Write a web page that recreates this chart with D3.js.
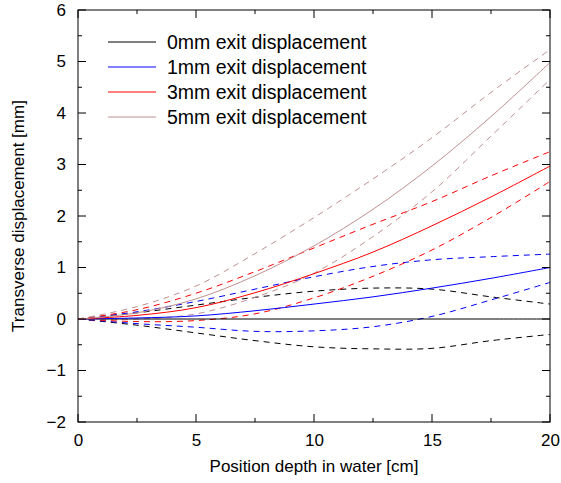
<!DOCTYPE html>
<html><head><meta charset="utf-8">
<script src="https://cdn.jsdelivr.net/npm/d3@7"></script>
<style>body{margin:0;background:#fff}svg{display:block}text{font-family:"Liberation Sans",Arial,sans-serif}</style>
</head><body><svg id="c" width="561" height="483"></svg>
<script>
const depth = [0, 2.5, 5, 7.5, 10, 12.5, 15, 17.5, 20];
const seriesNames = ["0mm exit displacement","1mm exit displacement","3mm exit displacement","5mm exit displacement"];
const colors = ["#000000","#0000ff","#ff0000","#c09090"];
const center0 = [0,0,0,0,0,0,0,0,0];
const upper0  = [0,0.12,0.27,0.42,0.54,0.60,0.58,0.43,0.29];
const lower0  = [0,-0.12,-0.27,-0.42,-0.54,-0.58,-0.57,-0.42,-0.30];
const center1 = [0,0.02,0.06,0.16,0.29,0.43,0.60,0.79,1.00];
const upper1  = [0,0.14,0.34,0.58,0.82,1.02,1.15,1.21,1.26];
const lower1  = [0,-0.09,-0.16,-0.24,-0.23,-0.15,0.05,0.37,0.71];
const center3 = [0,0.07,0.22,0.51,0.88,1.30,1.81,2.37,2.97];
const upper3  = [0,0.18,0.50,0.92,1.38,1.84,2.28,2.78,3.25];
const lower3  = [0,-0.05,-0.03,0.10,0.41,0.83,1.34,1.97,2.67];
const center5 = [0,0.12,0.39,0.84,1.42,2.13,2.97,3.93,4.98];
const upper5  = [0,0.24,0.64,1.27,1.97,2.72,3.52,4.40,5.23];
const lower5  = [0,0.00,0.10,0.42,0.89,1.60,2.47,3.55,4.65];
const xTicks = [0,5,10,15,20];
const yTicks = [-2,-1,0,1,2,3,4,5,6];

const centers=[center0,center1,center3,center5];
const uppers=[upper0,upper1,upper3,upper5];
const lowers=[lower0,lower1,lower3,lower5];

const L=78,R=550,T=10,B=422;
const svg=d3.select("#c");
const x=d3.scaleLinear().domain([0,20]).range([L,R]);
const y=d3.scaleLinear().domain([-2,6]).range([B,T]);
const line=d3.line().x((d,i)=>x(depth[i])).y(d=>y(d)).curve(d3.curveCatmullRom.alpha(0.5));

const g=svg.append("g");
for(let k=0;k<4;k++){
  [uppers[k],lowers[k]].forEach(arr=>{
    g.append("path").attr("d",line(arr)).attr("fill","none").attr("stroke",colors[k]).attr("stroke-width",1).attr("stroke-dasharray","6,5");
  });
}
for(let k=0;k<4;k++){
  g.append("path").attr("d",line(centers[k])).attr("fill","none").attr("stroke",colors[k]).attr("stroke-width",1);
}

svg.append("rect").attr("x",L).attr("y",T).attr("width",R-L).attr("height",B-T).attr("fill","none").attr("stroke","#000").attr("stroke-width",1);

const xMinor=d3.range(0,20.01,2.5);
const yMinor=d3.range(-2,6.01,0.5);
const tg=svg.append("g").attr("stroke","#000").attr("stroke-width",1);
xMinor.forEach(v=>{
  const len = xTicks.includes(v)?8:4;
  tg.append("line").attr("x1",x(v)).attr("x2",x(v)).attr("y1",B).attr("y2",B-len);
  tg.append("line").attr("x1",x(v)).attr("x2",x(v)).attr("y1",T).attr("y2",T+len);
});
yMinor.forEach(v=>{
  const len = yTicks.includes(v)?8:4;
  tg.append("line").attr("y1",y(v)).attr("y2",y(v)).attr("x1",L).attr("x2",L+len);
  tg.append("line").attr("y1",y(v)).attr("y2",y(v)).attr("x1",R).attr("x2",R-len);
});
const xa=d3.axisBottom(x).tickValues(xTicks).tickSize(0).tickPadding(12).tickFormat(d3.format("d"));
svg.append("g").attr("transform",`translate(0,${B})`).call(xa).call(a=>a.select(".domain").remove())
  .selectAll("text").attr("font-size",17).attr("fill","#000").attr("font-family","Liberation Sans, Arial, sans-serif");
const ya=d3.axisLeft(y).tickValues(yTicks).tickSize(0).tickPadding(12).tickFormat(d=>d<0?"\u2212"+Math.abs(d):d);
svg.append("g").attr("transform",`translate(${L},0)`).call(ya).call(a=>a.select(".domain").remove())
  .selectAll("text").attr("font-size",17).attr("fill","#000").attr("font-family","Liberation Sans, Arial, sans-serif");

svg.append("text").attr("x",(L+R)/2).attr("y",472).attr("text-anchor","middle").attr("font-size",17).text("Position depth in water [cm]");
svg.append("text").attr("transform",`translate(24,${(T+B)/2}) rotate(-90)`).attr("text-anchor","middle").attr("font-size",17).text("Transverse displacement [mm]");

const lg=svg.append("g");
seriesNames.forEach((n,i)=>{
  const yy=42+i*25;
  lg.append("line").attr("x1",108).attr("x2",156).attr("y1",yy).attr("y2",yy).attr("stroke",colors[i]).attr("stroke-width",1);
  lg.append("text").attr("x",167).attr("y",yy+7).attr("font-size",19.5).text(n);
});
</script></body></html>
